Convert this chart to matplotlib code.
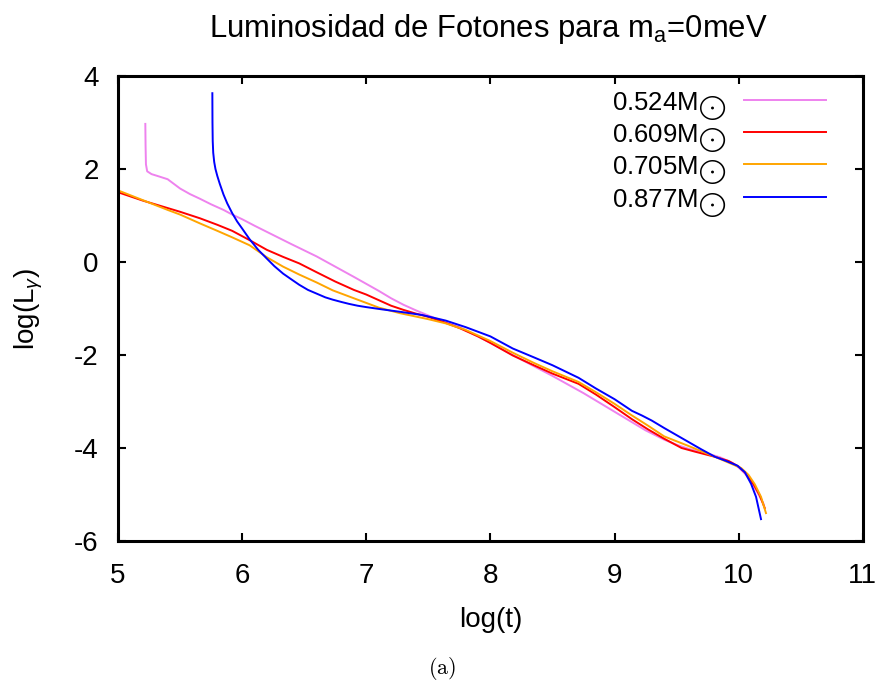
import matplotlib
matplotlib.use("Agg")
import matplotlib.pyplot as plt

plt.rcParams['font.family'] = ['Liberation Sans', 'DejaVu Sans']
plt.rcParams['mathtext.fontset'] = 'custom'
plt.rcParams['mathtext.rm'] = 'Liberation Sans'
plt.rcParams['mathtext.it'] = 'Liberation Sans:italic'
plt.rcParams['axes.unicode_minus'] = False

labels = ["0.524M$_{\\bigodot}$", "0.609M$_{\\bigodot}$", "0.705M$_{\\bigodot}$", "0.877M$_{\\bigodot}$"]
colors = ["#EE82EE", "#FF0000", "#FFA500", "#0000FF"]

x_524 = [5.22, 5.222, 5.225, 5.235, 5.27, 5.33, 5.40, 5.45, 5.50, 5.58, 5.66, 5.75, 5.85, 5.92, 6.00,
         6.10, 6.25, 6.40, 6.50, 6.60, 6.75, 6.90, 7.00, 7.10, 7.20, 7.30, 7.40, 7.50, 7.60, 7.75,
         7.90, 8.00, 8.25, 8.50, 8.75, 9.00, 9.25, 9.40, 9.50, 9.60, 9.75, 9.85, 9.95, 10.00, 10.05,
         10.10, 10.15, 10.20]
y_524 = [2.97, 2.50, 2.10, 1.95, 1.89, 1.84, 1.78, 1.68, 1.58, 1.46, 1.36, 1.24, 1.12, 1.02, 0.92,
         0.78, 0.58, 0.38, 0.25, 0.12, -0.10, -0.32, -0.47, -0.62, -0.78, -0.92, -1.04, -1.15, -1.26, -1.40,
         -1.60, -1.74, -2.10, -2.45, -2.82, -3.22, -3.62, -3.82, -3.93, -4.02, -4.12, -4.20, -4.32, -4.42, -4.55,
         -4.72, -4.95, -5.20]

x_609 = [5.00, 5.20, 5.40, 5.50, 5.66, 5.80, 5.92, 6.06, 6.20, 6.33, 6.46, 6.60, 6.75, 6.90, 7.00,
         7.10, 7.20, 7.30, 7.40, 7.50, 7.60, 7.75, 7.90, 8.00, 8.18, 8.35, 8.50, 8.71, 8.85, 9.00,
         9.14, 9.27, 9.40, 9.54, 9.65, 9.81, 9.92, 10.00, 10.06, 10.12, 10.17, 10.21]
y_609 = [1.50, 1.32, 1.16, 1.08, 0.94, 0.80, 0.67, 0.47, 0.26, 0.11, -0.03, -0.22, -0.42, -0.60, -0.70,
         -0.82, -0.94, -1.03, -1.11, -1.18, -1.27, -1.42, -1.60, -1.74, -2.01, -2.22, -2.40, -2.62, -2.85, -3.12,
         -3.38, -3.60, -3.80, -4.00, -4.08, -4.19, -4.28, -4.40, -4.55, -4.78, -5.02, -5.29]

x_705 = [5.00, 5.20, 5.40, 5.50, 5.66, 5.80, 5.92, 6.06, 6.20, 6.33, 6.46, 6.60, 6.73, 6.90, 7.00,
         7.10, 7.27, 7.50, 7.64, 7.80, 8.00, 8.18, 8.35, 8.50, 8.71, 8.85, 9.00, 9.14, 9.27, 9.40,
         9.59, 9.81, 10.02, 10.08, 10.13, 10.18, 10.22]
y_705 = [1.54, 1.33, 1.12, 1.02, 0.83, 0.67, 0.53, 0.36, 0.10, -0.10, -0.27, -0.44, -0.61, -0.78, -0.88,
         -0.98, -1.10, -1.23, -1.32, -1.46, -1.70, -1.95, -2.17, -2.35, -2.58, -2.80, -3.05, -3.30, -3.52, -3.75,
         -3.95, -4.19, -4.43, -4.58, -4.78, -5.05, -5.40]

x_877 = [5.76, 5.761, 5.763, 5.767, 5.775, 5.785, 5.80, 5.82, 5.85, 5.88, 5.92, 5.96, 6.00, 6.06, 6.13,
         6.20, 6.26, 6.33, 6.40, 6.46, 6.53, 6.60, 6.67, 6.73, 6.80, 6.86, 6.93, 7.00, 7.13, 7.27,
         7.45, 7.64, 7.80, 8.00, 8.18, 8.35, 8.50, 8.71, 8.85, 9.00, 9.14, 9.22, 9.30, 9.40, 9.55,
         9.70, 9.81, 9.90, 9.99, 10.05, 10.10, 10.14, 10.18]
y_877 = [3.63, 3.00, 2.60, 2.35, 2.15, 2.00, 1.85, 1.68, 1.45, 1.26, 1.05, 0.87, 0.72, 0.49, 0.26,
         0.07, -0.09, -0.25, -0.38, -0.49, -0.60, -0.68, -0.76, -0.81, -0.86, -0.90, -0.94, -0.97, -1.02, -1.07,
         -1.14, -1.26, -1.40, -1.60, -1.86, -2.05, -2.22, -2.49, -2.72, -2.95, -3.20, -3.30, -3.41, -3.57, -3.80,
         -4.03, -4.19, -4.28, -4.38, -4.52, -4.77, -5.05, -5.53]

xs = [x_524, x_609, x_705, x_877]
ys = [y_524, y_609, y_705, y_877]

fig = plt.figure(figsize=(8.84, 6.89), dpi=100)
ax = fig.add_axes([0.1335, 0.2148, 0.8425, 0.6749])
for x, y, c, l in zip(xs, ys, colors, labels):
    ax.plot(x, y, color=c, lw=1.4, label=l)

ax.set_xlim(5, 11)
ax.set_ylim(-6, 4)
ax.set_xticks([5, 6, 7, 8, 9, 10, 11])
ax.set_yticks([-6, -4, -2, 0, 2, 4])
ax.tick_params(direction='in', length=6, width=1.5, top=True, right=True, labelsize=20)
ax.tick_params(axis='x', pad=16)
ax.tick_params(axis='y', pad=14)
for s in ax.spines.values():
    s.set_linewidth(2.2)

ax.set_xlabel("log(t)", fontsize=20)
ax.xaxis.label.set_va('center')
ax.xaxis.set_label_coords(0.5, -0.17)
ax.set_ylabel("log(L$_\\gamma$)", fontsize=20)
ax.yaxis.label.set_va('center')
ax.yaxis.set_label_coords(-0.12, 0.5)

fig.text(0.553, 1 - 37 / 689, "Luminosidad de Fotones para m$_\\mathrm{a}$=0meV", fontsize=22.3,
         ha='center', va='baseline')

leg = ax.legend(loc='upper right', bbox_to_anchor=(0.982, 1.02), frameon=False, fontsize=18.5,
                markerfirst=False, handlelength=3.2, handletextpad=0.7, labelspacing=0.04,
                borderpad=0.4)

fig.text(0.5, 1 - 669 / 689, "$\\mathrm{(a)}$", fontsize=16, math_fontfamily='cm',
         ha='center', va='center')

fig.savefig("out.png", dpi=100)
